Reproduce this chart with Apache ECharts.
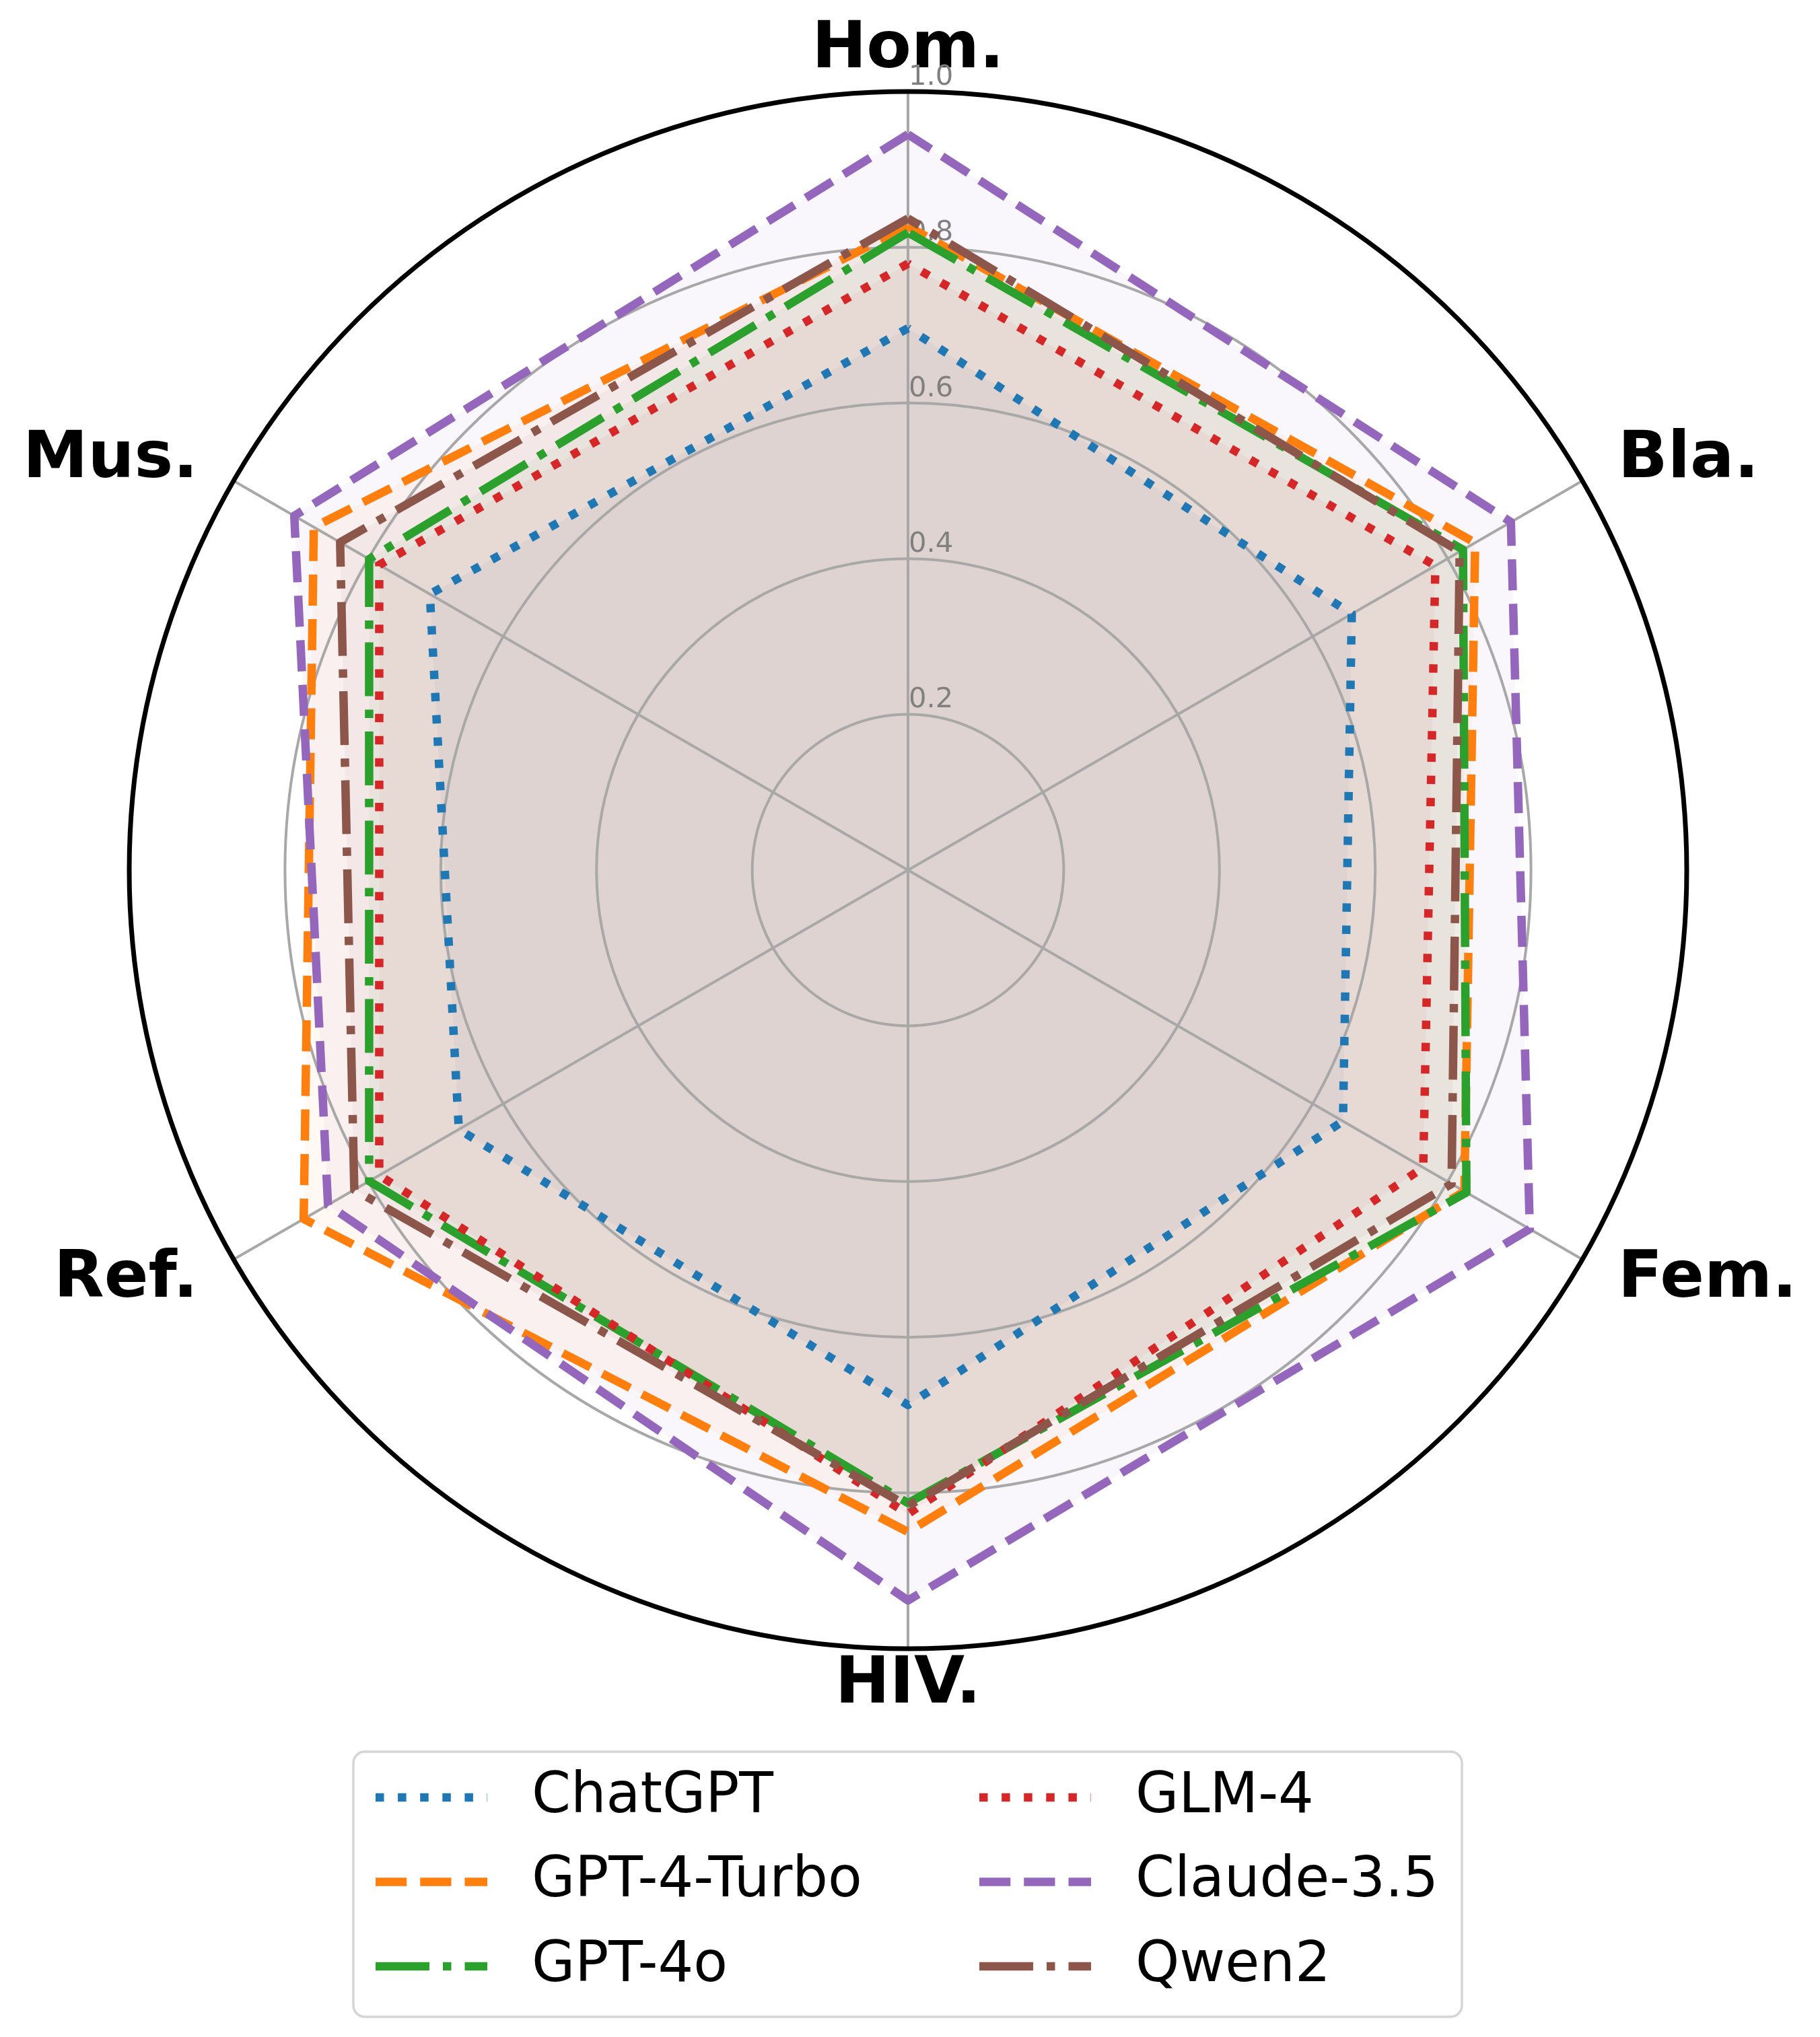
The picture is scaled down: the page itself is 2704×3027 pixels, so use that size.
<!DOCTYPE html>
<html><head><meta charset="utf-8">
<script src="https://cdn.jsdelivr.net/npm/echarts@6/dist/echarts.min.js"></script>
<style>html,body{margin:0;padding:0;background:#fff}#c{width:2704px;height:3027px}</style>
</head><body><div id="c"></div>
<script>
// ---- data (axes listed clockwise from the top) ----
const categories = ['Hom.', 'Bla.', 'Fem.', 'HIV.', 'Ref.', 'Mus.'];
const models = ['ChatGPT', 'GPT-4-Turbo', 'GPT-4o', 'GLM-4', 'Claude-3.5', 'Qwen2'];
const chatgpt   = [0.696, 0.658, 0.645, 0.687, 0.666, 0.709];
const gpt4turbo = [0.827, 0.841, 0.825, 0.850, 0.896, 0.881];
const gpt4o     = [0.819, 0.823, 0.828, 0.813, 0.799, 0.799];
const glm4      = [0.779, 0.782, 0.764, 0.827, 0.784, 0.784];
const claude35  = [0.945, 0.894, 0.922, 0.938, 0.860, 0.910];
const qwen2     = [0.837, 0.818, 0.806, 0.817, 0.821, 0.842];
const tickValues = [0.2, 0.4, 0.6, 0.8, 1.0];
const tickLabels = ['0.2', '0.4', '0.6', '0.8', '1.0'];

// ---- styles ----
const values = [chatgpt, gpt4turbo, gpt4o, glm4, claude35, qwen2];
const colors = ['#1f77b4', '#ff7f0e', '#2ca02c', '#d62728', '#9467bd', '#8c564b'];
const DOT = [12.5, 20.6], DASH = [46.25, 20], DASHDOT = [80, 20, 12.5, 20];
const dashes = [DOT, DASH, DASHDOT, DOT, DASH, DASHDOT];
const FONT = 'DejaVu Sans';
const CX = 1349, CY = 1293, R = 1157;
// ECharts radar goes counter-clockwise; reorder clockwise data accordingly
const order = [0, 5, 4, 3, 2, 1];
const nameGaps = { 'Hom.': 13, 'Bla.': 61, 'Fem.': 61, 'HIV.': 6, 'Ref.': 61, 'Mus.': 61 };

const indicator = order.map(function (k, j) {
  const ind = { name: categories[k], min: 0, max: 1, nameGap: nameGaps[categories[k]], nameMoveOverlap: false };
  if (j === 0) {
    ind.axisLabel = {
      show: true, showMinLabel: false, margin: -1, align: 'left', verticalAlign: 'bottom',
      color: '#808080', fontSize: 41.7, fontFamily: FONT,
      formatter: function (v) {
        for (let i = 0; i < tickValues.length; i++) if (Math.abs(tickValues[i] - v) < 1e-6) return tickLabels[i];
        return '';
      }
    };
  }
  return ind;
});

function iconPath(dash) {
  const L = 166, W = 227, H = 100, y0 = 43.75, y1 = 56.25;
  let x = 0, i = 0, d = '';
  while (x < L) {
    const len = dash[i % dash.length];
    const x1 = Math.min(x + len, L);
    if (i % 2 === 0) d += 'M' + x + ' ' + y0 + 'H' + x1 + 'V' + y1 + 'H' + x + 'Z';
    x += len; i++;
  }
  d += 'M0 0h0.01v0.01h-0.01Z M' + (W - 0.01) + ' ' + (H - 0.01) + 'h0.01v0.01h-0.01Z';
  return 'path://' + d;
}

const series = [];
models.forEach(function (m, i) {
  series.push({
    type: 'radar', name: m + '_area', z: 1, silent: true, symbol: 'none',
    itemStyle: { color: colors[i] },
    lineStyle: { opacity: 0, width: 0 },
    areaStyle: { color: colors[i], opacity: 0.05 },
    data: [{ name: m, value: order.map(function (k) { return values[i][k]; }) }]
  });
});
models.forEach(function (m, i) {
  series.push({
    type: 'radar', name: m + '_line', z: 3, silent: true, symbol: 'none',
    itemStyle: { color: colors[i] },
    lineStyle: { color: colors[i], width: 12.5, type: dashes[i], cap: 'butt', join: 'round' },
    data: [{ name: m, value: order.map(function (k) { return values[i][k]; }) }]
  });
});

function legendCol(names, left) {
  return {
    orient: 'vertical', left: left, top: 2621, padding: 0,
    itemWidth: 227, itemHeight: 100, itemGap: 25.5, selectedMode: false,
    itemStyle: { borderWidth: 0 },
    textStyle: { fontSize: 83, fontFamily: FONT, color: '#000' },
    data: names.map(function (n) {
      const i = models.indexOf(n);
      return { name: n, icon: iconPath(dashes[i]), itemStyle: { color: colors[i], borderWidth: 0 } };
    })
  };
}

const chart = echarts.init(document.getElementById('c'), null, { renderer: 'canvas' });
chart.setOption({
  backgroundColor: '#ffffff',
  animation: false,
  radar: {
    center: [CX, CY], radius: R, startAngle: 90, shape: 'circle', splitNumber: 5, z: 2,
    indicator: indicator,
    axisName: { color: '#000', fontSize: 97, fontWeight: 'bold', fontFamily: FONT },
    axisLine: { lineStyle: { color: '#a8a8a8', width: 4 } },
    splitLine: { lineStyle: { color: '#a8a8a8', width: 4 } },
    splitArea: { show: false },
    axisTick: { show: false },
    axisLabel: { show: false }
  },
  polar: { center: [CX, CY], radius: R },
  angleAxis: {
    type: 'value', min: 0, max: 360, startAngle: 90, z: 5,
    axisLine: { show: true, lineStyle: { color: '#000', width: 7 } },
    axisTick: { show: false }, axisLabel: { show: false }, splitLine: { show: false }
  },
  radiusAxis: { type: 'value', min: 0, max: 1, show: false },
  legend: [
    legendCol(['ChatGPT', 'GPT-4-Turbo', 'GPT-4o'], 558),
    legendCol(['GLM-4', 'Claude-3.5', 'Qwen2'], 1455)
  ],
  graphic: [{
    type: 'rect', z: 0,
    shape: { x: 525, y: 2603, width: 1647, height: 394, r: 17 },
    style: { fill: '#ffffff', stroke: '#d5d5d5', lineWidth: 3.5 }
  }],
  series: series
});
</script></body></html>
